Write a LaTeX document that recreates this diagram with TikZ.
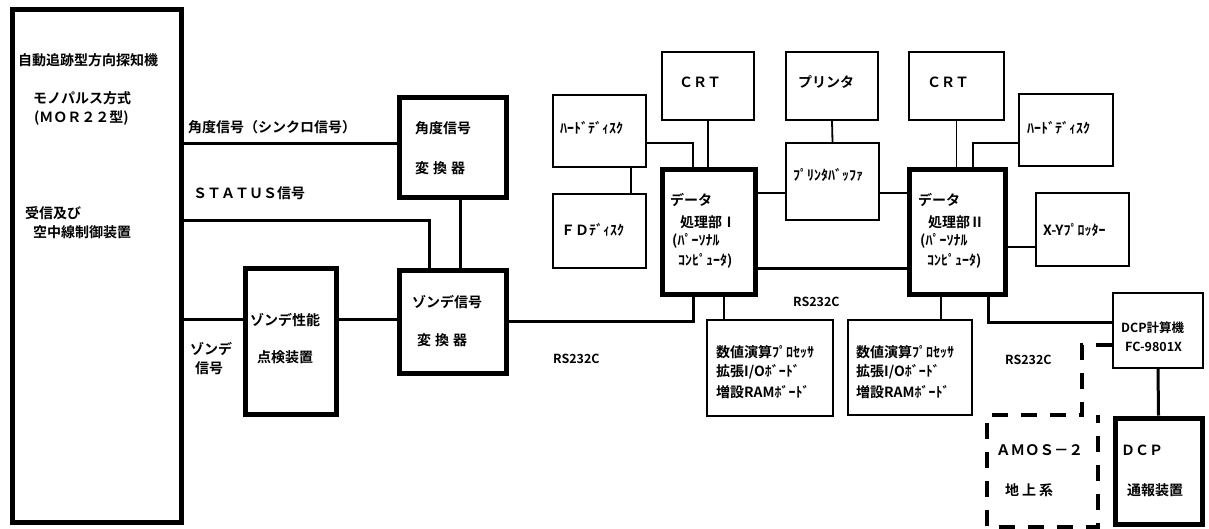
\documentclass[tikz,border=0pt]{standalone}
\usepackage{fontspec}
\usepackage{tikz}
\usetikzlibrary{calc,positioning}
\newfontfamily\jpb{Noto Sans CJK JP Bold}
\tikzset{
  heavybox/.style={draw, line width=5pt, inner sep=0pt},
  lightbox/.style={draw, line width=1.8pt, inner sep=0pt},
  heavy/.style={line width=3pt},
  light/.style={line width=1.8pt},
  amos/.style={line width=4pt, dash pattern=on 16pt off 13pt},
  lbl/.style={font=\jpb\fontsize{14}{16}\selectfont, inner sep=0pt, anchor=west},
  rs/.style={font=\jpb\fontsize{12.5}{14}\selectfont, inner sep=0pt, anchor=west}
}

\begin{document}
\begin{tikzpicture}[x=1pt, y=-1pt]
\useasboundingbox (0,0) rectangle (1209,528);

\node[heavybox, minimum width=169pt, minimum height=513pt] (main) at (96.5,265.5) {};
\node[heavybox, minimum width=107pt, minimum height=100pt] (angA) at (452.5,147) {};
\node[heavybox, minimum width=107pt, minimum height=103pt] (sondeConv) at (452.5,321.5) {};
\node[heavybox, minimum width=91pt, minimum height=146pt] (sondeChk) at (290.5,341) {};
\node[heavybox, minimum width=93pt, minimum height=125pt] (dpA) at (708.5,231.5) {};
\node[heavybox, minimum width=96pt, minimum height=125pt] (dpB) at (957,231.5) {};
\node[lightbox, minimum width=92pt, minimum height=68pt] (crtA) at (708,86) {};
\node[lightbox, minimum width=93pt, minimum height=72pt] (hdA) at (599.5,131) {};
\node[lightbox, minimum width=93pt, minimum height=74pt] (fd) at (599.5,231) {};
\node[lightbox, minimum width=92pt, minimum height=68pt] (prn) at (832,86) {};
\node[lightbox, minimum width=93pt, minimum height=77pt] (buf) at (832.5,181.5) {};
\node[lightbox, minimum width=95pt, minimum height=68pt] (crtB) at (956.5,86) {};
\node[lightbox, minimum width=94pt, minimum height=72pt] (hdB) at (1066,130) {};
\node[lightbox, minimum width=93pt, minimum height=73pt] (xy) at (1082.5,229.5) {};
\node[lightbox, minimum width=126pt, minimum height=96pt] (numA) at (770,368) {};
\node[lightbox, minimum width=124pt, minimum height=95pt] (numB) at (910,367.5) {};
\node[lightbox, minimum width=90pt, minimum height=75pt] (dcpc) at (1158,330.5) {};
\node[heavybox, minimum width=87pt, minimum height=106pt] (dcp) at (1158.5,471) {};

\draw[heavy] ([yshift=4pt]angA.west) -- ([yshift=4pt]angA.west -| main.east);
\draw[heavy] ([xshift=-23.5pt]sondeConv.north) |- ([yshift=45.5pt]main.east);
\draw[heavy] ([xshift=7.5pt]angA.south) -- ([xshift=7.5pt]sondeConv.north);
\draw[heavy] ([yshift=-53.5pt]main.east) -- ([yshift=-53.5pt]main.east -| sondeChk.west);
\draw[heavy] ([yshift=22pt]sondeChk.east) -- ([yshift=22pt]sondeChk.east -| sondeConv.west);
\draw[heavy] (sondeConv.east) -| ([xshift=-15.5pt]dpA.south);
\draw[heavy] ([yshift=-36.5pt]dpA.east) -- ([yshift=-36.5pt]dpA.east -| dpB.west);
\draw[heavy] ([xshift=31pt]dpB.south) |- ([yshift=8.5pt]dcpc.west);
\draw[heavy] (dcpc.south) -- (dcp.north);

\draw[light] (crtA.south) -- (crtA.south |- dpA.north);
\draw[light] ([yshift=-12pt]hdA.east) -| ([xshift=-15.5pt]dpA.north);
\draw[light] ([xshift=31.5pt]hdA.south) -- ([xshift=31.5pt]hdA.south |- fd.north);
\draw[light] (prn.south) -- (buf.north);
\draw[light] ([yshift=-11.5pt]buf.west) -- ([yshift=-11.5pt]buf.west -| dpA.east);
\draw[light] ([yshift=-11.5pt]buf.east) -- ([yshift=-11.5pt]buf.east -| dpB.west);
\draw[light] (crtB.south) -- (crtB.south |- dpB.north);
\draw[light] ([yshift=-13pt]hdB.west) -| ([xshift=16pt]dpB.north);
\draw[light] ([yshift=-15.5pt]dpB.east) -- ([yshift=-15.5pt]dpB.east -| xy.west);
\draw[light] ([xshift=15.5pt]dpA.south) -- ([xshift=15.5pt]dpA.south |- numA.north);
\draw[light] ([xshift=-16pt]dpB.south) -- ([xshift=-16pt]dpB.south |- numB.north);

\draw[amos] ([yshift=-14.5pt]dcpc.west) -- (1082,345) -- (1082,415) -- (987,415) -- (987,527) -- (1098,527) -- (1098,415);

\node[lbl] (tDf) at (18,60) {自動追跡型方向探知機};
\node[lbl] (tMono) at (33,98) {モノパルス方式};
\node[lbl] (tMor) at (34,118) {(ＭＯＲ２２型)};
\node[lbl] (tRecv) at (25,213) {受信及び};
\node[lbl] (tAnt) at (33,232) {空中線制御装置};
\node[lbl] (tAng) at (188,127) {角度信号（シンクロ信号）};
\node[lbl] (tStat) at (193,193) {ＳＴＡＴＵＳ信号};
\node[lbl] (tSigA) at (190,349) {ゾンデ};
\node[lbl] (tSigB) at (195,368) {信号};
\node[lbl] (tChkA) at (250,320) {ゾンデ性能};
\node[lbl] (tChkB) at (257,357) {点検装置};
\node[lbl] (tAngA) at (415,128) {角度信号};
\node[lbl] (tAngB) at (415,168) {変\hspace{4pt}換\hspace{4pt}器};
\node[lbl] (tScA) at (412,302) {ゾンデ信号};
\node[lbl] (tScB) at (417,340) {変\hspace{4pt}換\hspace{4pt}器};
\node[rs] (tRsA) at (553,359) {RS232C};
\node[rs] (tRsB) at (793,302) {RS232C};
\node[rs] (tRsC) at (1005,360) {RS232C};
\node[lbl] (tCrtA) at (679,82) {ＣＲＴ};
\node[lbl] (tHdA) at (560,128) {ﾊｰﾄﾞﾃﾞｨｽｸ};
\node[lbl] (tFd) at (561,230) {ＦＤﾃﾞｨｽｸ};
\node[lbl] (tDpA1) at (670,200) {データ};
\node[lbl] (tDpA2) at (680,222) {処理部Ⅰ};
\node[lbl] (tDpA3) at (672,241) {(ﾊﾟｰｿﾅﾙ};
\node[lbl] (tDpA4) at (678,261) {ｺﾝﾋﾟｭｰﾀ)};
\node[lbl] (tDpB1) at (918,200) {データ};
\node[lbl] (tDpB2) at (928,222) {処理部Ⅱ};
\node[lbl] (tDpB3) at (920,241) {(ﾊﾟｰｿﾅﾙ};
\node[lbl] (tDpB4) at (927,261) {ｺﾝﾋﾟｭｰﾀ)};
\node[lbl] (tPrn) at (798,82) {プリンタ};
\node[lbl] (tBuf) at (793,175) {ﾌﾟﾘﾝﾀﾊﾞｯﾌｧ};
\node[lbl] (tCrtB) at (927,82) {ＣＲＴ};
\node[lbl] (tHdB) at (1027,128) {ﾊｰﾄﾞﾃﾞｨｽｸ};
\node[lbl] (tXy) at (1043,230) {X-Yﾌﾟﾛｯﾀｰ};
\node[lbl] (tNumA1) at (716,352) {数値演算ﾌﾟﾛｾｯｻ};
\node[lbl] (tNumA2) at (716,372) {拡張I/Oﾎﾞｰﾄﾞ};
\node[lbl] (tNumA3) at (716,392) {増設RAMﾎﾞｰﾄﾞ};
\node[lbl] (tNumB1) at (856,352) {数値演算ﾌﾟﾛｾｯｻ};
\node[lbl] (tNumB2) at (856,372) {拡張I/Oﾎﾞｰﾄﾞ};
\node[lbl] (tNumB3) at (856,392) {増設RAMﾎﾞｰﾄﾞ};
\node[rs] (tDcpc1) at (1121,328) {DCP計算機};
\node[rs] (tDcpc2) at (1125,347) {FC-9801X};
\node[lbl, font=\jpb\fontsize{14.5}{17}\selectfont] (tAmos) at (996,450) {ＡＭＯＳ－２};
\node[lbl] (tGnd) at (1005,490) {地\hspace{3pt}上\hspace{3pt}系};
\node[lbl] (tDcp) at (1121,450) {ＤＣＰ};
\node[lbl] (tTx) at (1127,490) {通報装置};
\end{tikzpicture}
\end{document}
